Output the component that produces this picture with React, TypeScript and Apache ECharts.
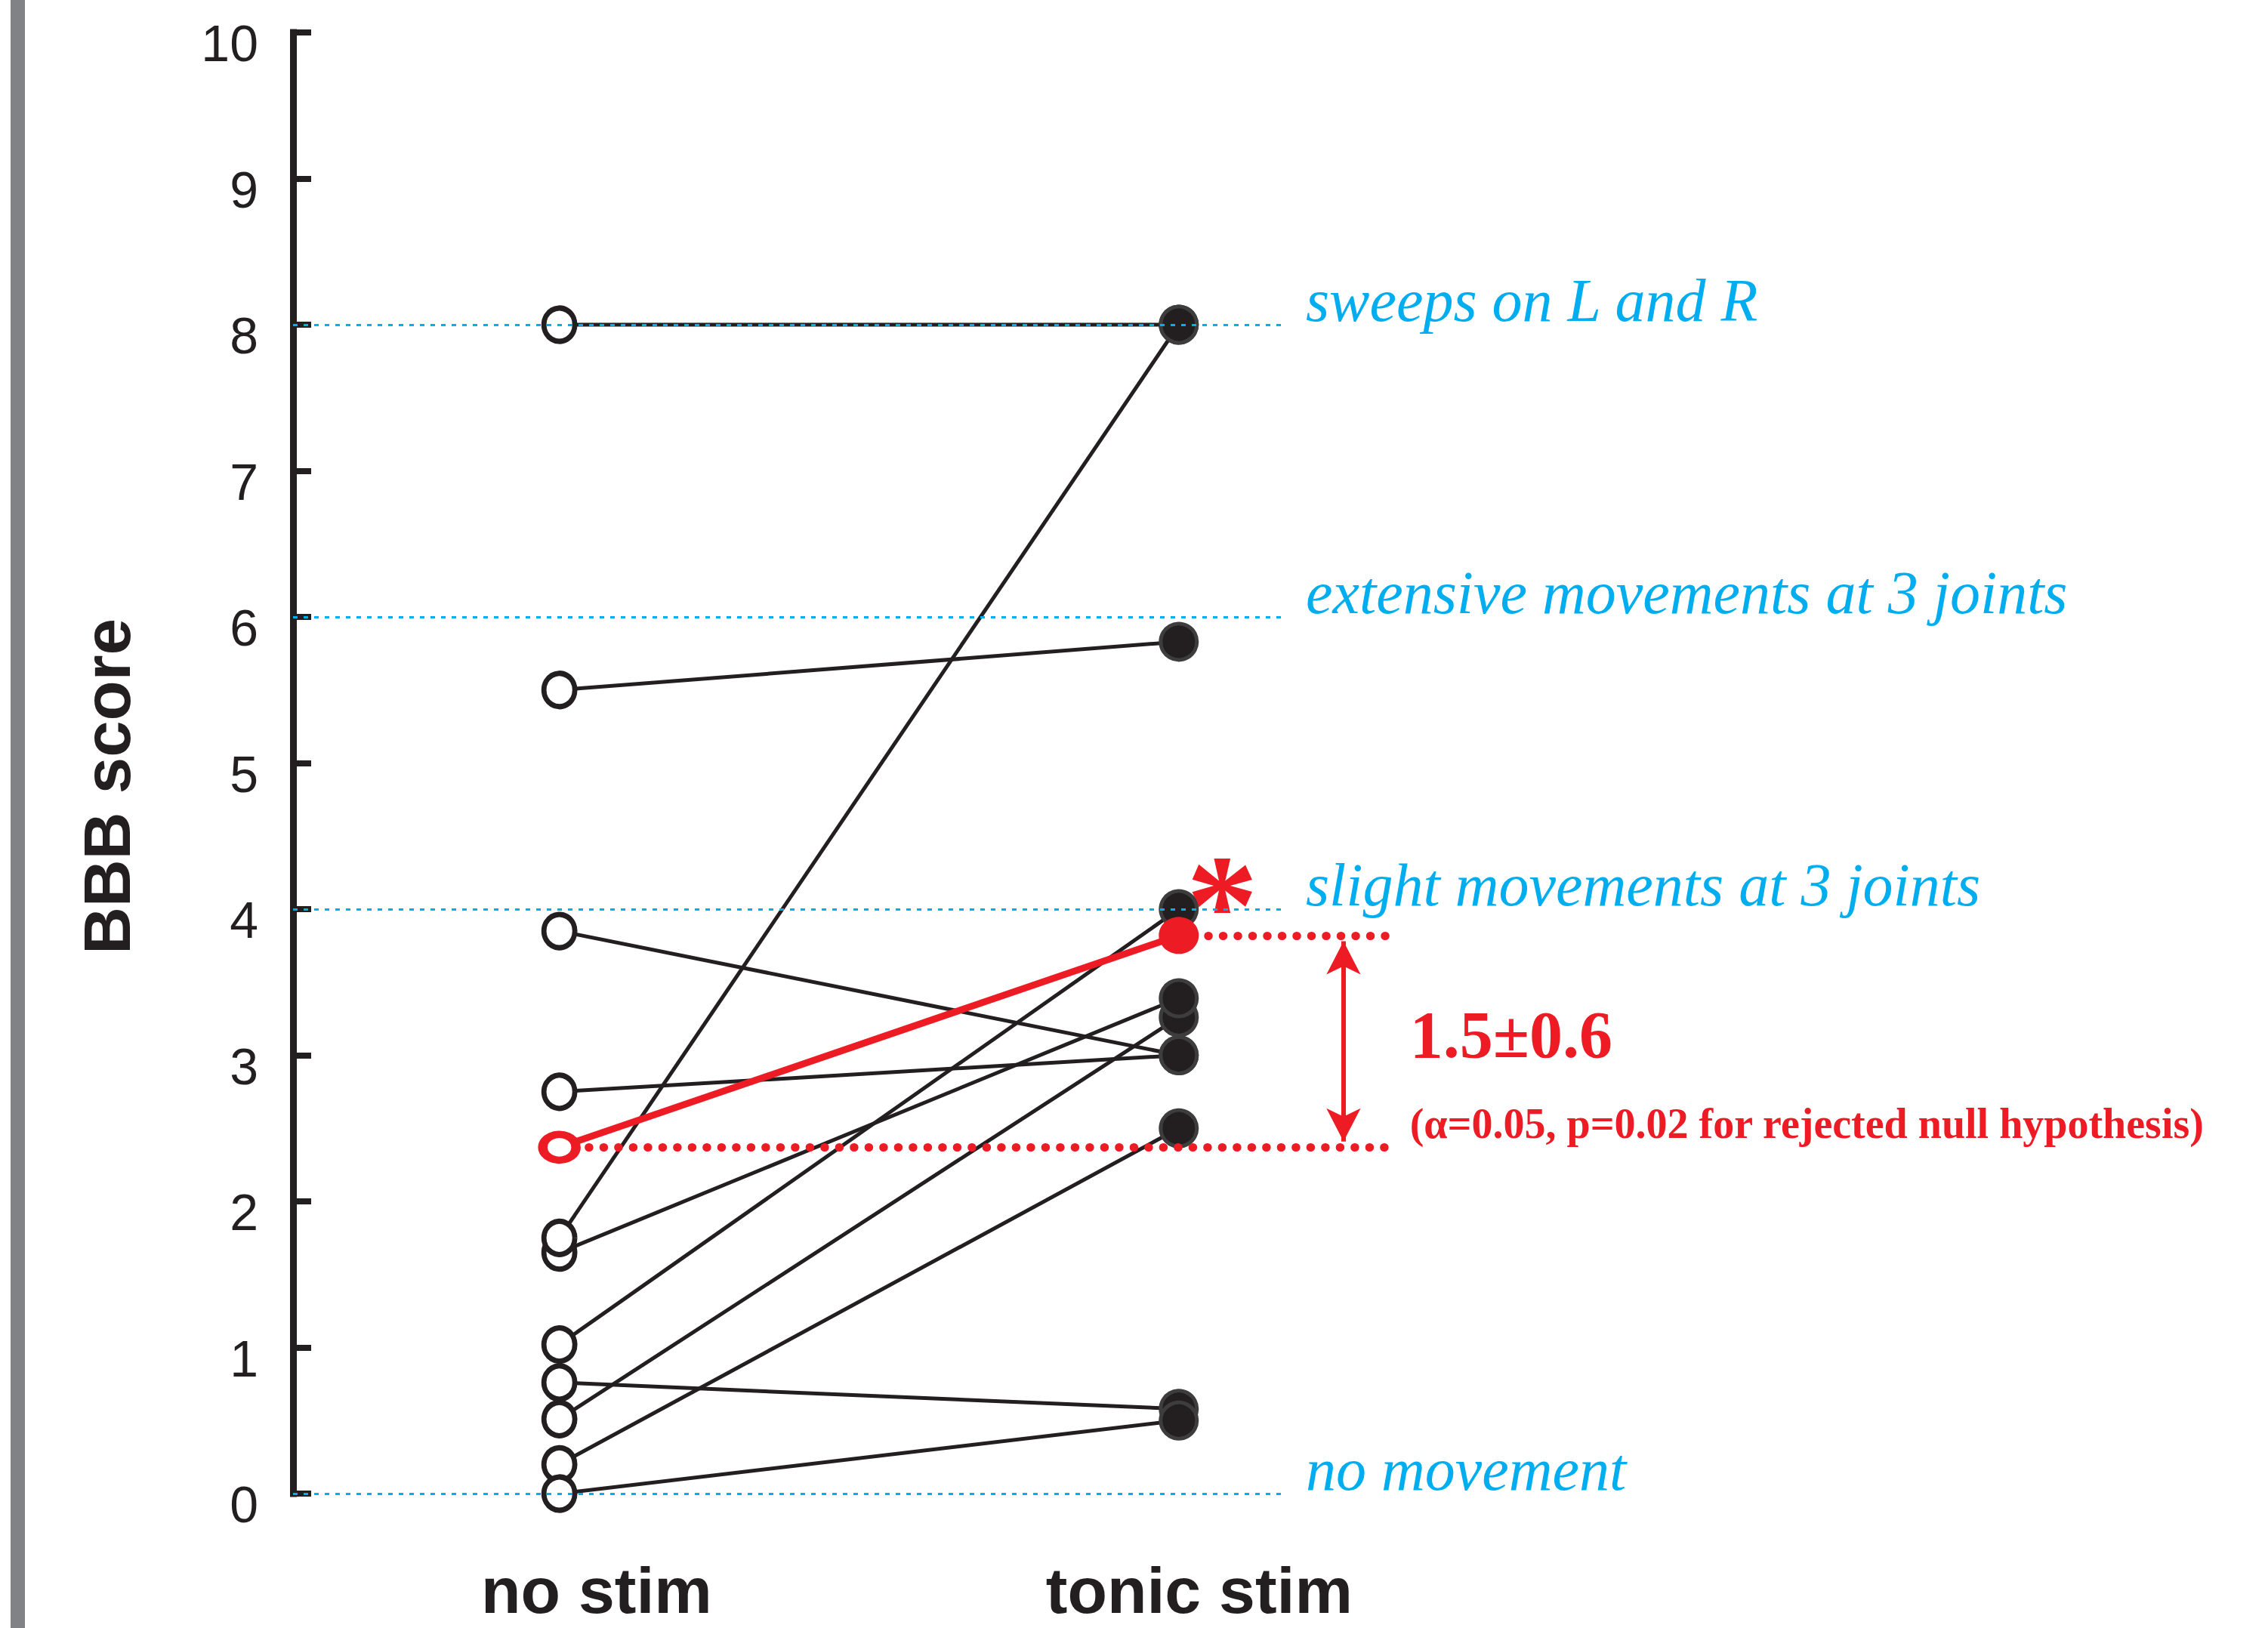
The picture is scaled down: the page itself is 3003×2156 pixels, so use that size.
import React, { useEffect, useRef } from 'react';
import * as echarts from 'echarts';

// ---- data ----
const categories = ['no stim', 'tonic stim'];
// paired BBB scores, one entry per animal
const noStim = [8.0, 5.5, 3.85, 2.75, 0.51, 1.65, 1.75, 1.02, 0.76, 0.2, 0.0];
const tonicStim = [8.0, 5.83, 3.0, 3.0, 3.26, 3.39, 8.0, 4.0, 0.58, 2.5, 0.5];
const meanNoStim = 2.37;
const meanTonicStim = 3.82;
const yTickValues = [0, 1, 2, 3, 4, 5, 6, 7, 8, 9, 10];
const levelValues = [8, 6, 4, 0];
const levelLabels = [
  'sweeps on L and R',
  'extensive movements at 3 joints',
  'slight movements at 3 joints',
  'no movement',
];
const yAxisTitle = 'BBB score';
const diffLabel = '1.5±0.6';
const statLabel = '(α=0.05, p=0.02 for rejected null hypothesis)';
const starLabel = '*';

// ---- styles ----
const BLACK = '#231f20';
const RED = '#ed1c24';
const BLUE = '#00aeef';
const GRAY = '#808285';

export default function App() {
  const ref = useRef<HTMLDivElement>(null);

  useEffect(() => {
    const el = ref.current as HTMLDivElement;
    const chart = echarts.init(el, null, { renderer: 'svg' });

    const X_MIN = 0.57;
    const X_MAX = 3.7;
    const LEVEL_END = 2.166;
    const ARROW_X = 2.266;

    const pairSeries = noStim.map((v, i) => ({
      type: 'line',
      data: [
        [1, v],
        [2, tonicStim[i]],
      ],
      symbol: 'none',
      showSymbol: false,
      lineStyle: { color: BLACK, width: 5 },
      z: 2,
      silent: true,
    }));

    const option: any = {
      animation: false,
      backgroundColor: '#ffffff',
      grid: { left: 388, top: 43, width: 2567, height: 1935 },
      xAxis: {
        type: 'value',
        min: X_MIN,
        max: X_MAX,
        show: false,
      },
      yAxis: {
        type: 'value',
        min: yTickValues[0],
        max: yTickValues[yTickValues.length - 1],
        interval: 1,
        axisLine: { show: true, lineStyle: { color: BLACK, width: 9, cap: 'square' } },
        axisTick: { show: true, inside: true, length: 24, lineStyle: { color: BLACK, width: 8 } },
        axisLabel: {
          margin: 46,
          formatter: '{t|{value}}',
          rich: {
            t: {
              fontSize: 68,
              color: BLACK,
              fontFamily: 'Liberation Sans, Arial, sans-serif',
              padding: [28, 0, 0, 0],
            },
          },
        },
        splitLine: { show: false },
      },
      series: [
        // blue reference levels
        {
          type: 'line',
          data: [[X_MIN, 0]],
          symbol: 'none',
          showSymbol: false,
          lineStyle: { opacity: 0 },
          z: 1,
          silent: true,
          markLine: {
            silent: true,
            symbol: ['none', 'none'],
            label: { show: false },
            lineStyle: { color: BLUE, width: 3, type: [6, 8] },
            data: levelValues.map((v) => [
              { coord: [X_MIN, v] },
              { coord: [LEVEL_END, v] },
            ]),
          },
        },
        ...pairSeries,
        {
          type: 'scatter',
          data: noStim.map((v) => [1, v]),
          symbol: 'circle',
          symbolSize: [41, 44],
          itemStyle: { color: '#ffffff', borderColor: BLACK, borderWidth: 7, opacity: 1 },
          z: 3,
          silent: true,
        },
        {
          type: 'scatter',
          data: tonicStim.map((v) => [2, v]),
          symbol: 'circle',
          symbolSize: 48,
          itemStyle: { color: BLACK, borderColor: '#3d3d3d', borderWidth: 5, opacity: 1 },
          z: 3,
          silent: true,
        },
        // mean line with dotted guides and arrow
        {
          type: 'line',
          data: [
            [1, meanNoStim],
            [2, meanTonicStim],
          ],
          symbol: 'none',
          showSymbol: false,
          lineStyle: { color: RED, width: 9 },
          z: 4,
          silent: true,
          markLine: {
            silent: true,
            symbol: ['none', 'none'],
            label: { show: false },
            data: [
              [
                { coord: [1, meanNoStim], lineStyle: { color: RED, width: 11, type: [0.5, 19], cap: 'round' } },
                { coord: [2.335, meanNoStim] },
              ],
              [
                { coord: [2, meanTonicStim], lineStyle: { color: RED, width: 11, type: [0.5, 19], cap: 'round' } },
                { coord: [2.35, meanTonicStim] },
              ],
            ],
          },
        },
        {
          type: 'line',
          data: [[ARROW_X, meanTonicStim]],
          symbol: 'none',
          showSymbol: false,
          lineStyle: { opacity: 0 },
          z: 4,
          silent: true,
          markLine: {
            silent: true,
            symbol: ['arrow', 'arrow'],
            symbolSize: [34, 44],
            label: { show: false },
            lineStyle: { color: RED, width: 6, type: 'solid' },
            data: [
              [
                { coord: [ARROW_X, meanTonicStim - 0.04] },
                { coord: [ARROW_X, meanNoStim + 0.04] },
              ],
            ],
          },
        },
        {
          type: 'scatter',
          data: [[1, meanNoStim]],
          symbol: 'circle',
          symbolSize: [44, 34],
          itemStyle: { color: '#ffffff', borderColor: RED, borderWidth: 11, opacity: 1 },
          z: 5,
          silent: true,
        },
        {
          type: 'scatter',
          data: [[2, meanTonicStim]],
          symbol: 'circle',
          symbolSize: [53, 49],
          itemStyle: { color: RED, opacity: 1 },
          z: 5,
          silent: true,
        },
      ],
    };

    chart.setOption(option);

    const px = (x: number, y: number) => chart.convertToPixel({ gridIndex: 0 }, [x, y]) as number[];
    const graphics: any[] = [];

    // gray side bar
    graphics.push({
      type: 'rect',
      shape: { x: 14, y: 0, width: 19, height: 2156 },
      style: { fill: GRAY },
      z: 0,
    });

    // y axis title
    const titleY = px(1, 4.84)[1];
    graphics.push({
      type: 'text',
      x: 141,
      y: titleY,
      rotation: Math.PI / 2,
      style: {
        text: yAxisTitle,
        fontSize: 87,
        fontWeight: 'bold',
        fontFamily: 'Liberation Sans, Arial, sans-serif',
        fill: BLACK,
        align: 'center',
        verticalAlign: 'middle',
      },
    });

    // category labels
    const catX = [1.06, 2.033];
    categories.forEach((c, i) => {
      const p = px(catX[i], 0);
      graphics.push({
        type: 'text',
        x: p[0],
        y: 2106,
        style: {
          text: c,
          fontSize: 86,
          lineHeight: 86,
          fontWeight: 'bold',
          fontFamily: 'Liberation Sans, Arial, sans-serif',
          fill: BLACK,
          align: 'center',
          verticalAlign: 'middle',
        },
      });
    });

    // level labels
    levelValues.forEach((v, i) => {
      const p = px(2.205, v);
      graphics.push({
        type: 'text',
        x: p[0],
        y: p[1] - 32,
        style: {
          text: levelLabels[i],
          fontSize: 80,
          fontStyle: 'italic',
          fontFamily: 'Liberation Serif, Times New Roman, serif',
          fill: BLUE,
          align: 'left',
          verticalAlign: 'middle',
        },
      });
    });

    // asterisk
    const sp = px(2.07, 4.16);
    graphics.push({
      type: 'text',
      x: sp[0],
      y: sp[1] + 26,
      style: {
        text: starLabel,
        fontSize: 190,
        fontWeight: 'bold',
        fontFamily: 'Liberation Serif, Times New Roman, serif',
        fill: RED,
        align: 'center',
        verticalAlign: 'middle',
      },
    });

    // difference label
    const dp = px(2.373, 3.14);
    graphics.push({
      type: 'text',
      x: dp[0],
      y: dp[1],
      style: {
        text: diffLabel,
        fontSize: 88,
        fontWeight: 'bold',
        fontFamily: 'Liberation Serif, Times New Roman, serif',
        fill: RED,
        align: 'left',
        verticalAlign: 'middle',
      },
    });
    const tp = px(2.373, 2.53);
    graphics.push({
      type: 'text',
      x: tp[0],
      y: tp[1],
      style: {
        text: statLabel,
        fontSize: 56,
        fontWeight: 'bold',
        fontFamily: 'Liberation Serif, Times New Roman, serif',
        fill: RED,
        align: 'left',
        verticalAlign: 'middle',
      },
    });

    chart.setOption({ graphic: graphics });

    return () => {
      chart.dispose();
    };
  }, []);

  return (
    <div
      ref={ref}
      style={{ position: 'absolute', left: 0, top: 0, width: 3003, height: 2156, background: '#ffffff' }}
    />
  );
}
